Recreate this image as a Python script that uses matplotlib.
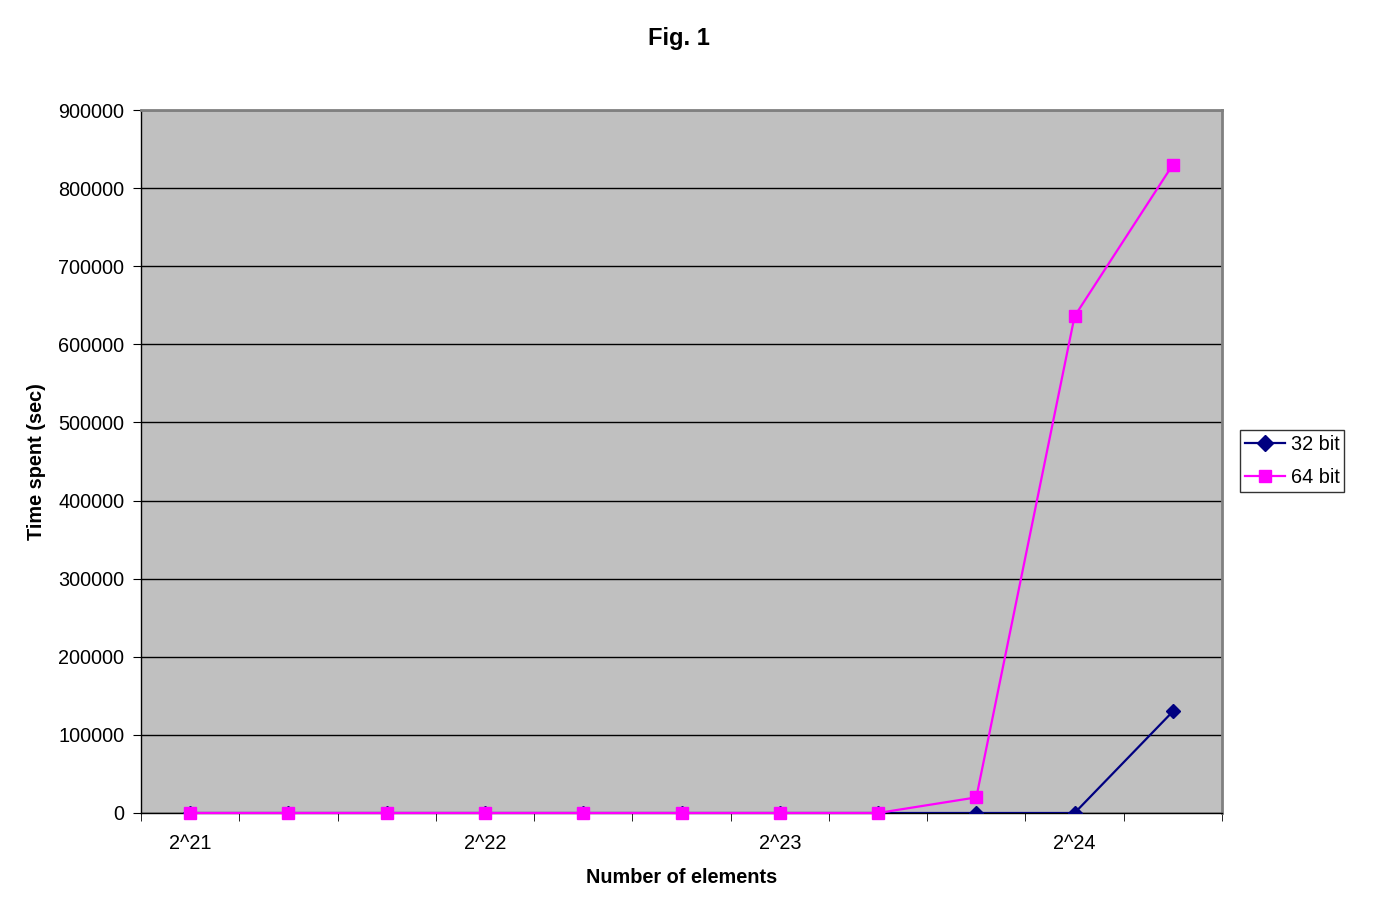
import matplotlib.pyplot as plt
import numpy as np

plt.rcParams['font.family'] = ['Liberation Sans', 'DejaVu Sans']

# data
categories = ['2^21', '', '', '2^22', '', '', '2^23', '', '', '2^24', '']
bit32 = [0, 0, 0, 0, 0, 0, 0, 0, 0, 0, 130000]
bit64 = [0, 0, 0, 0, 0, 0, 0, 0, 20000, 636000, 830000]
yticks = np.arange(0, 900001, 100000)


def main():
    fig = plt.figure(figsize=(13.79, 9.16), dpi=100)
    ax = fig.add_axes([141 / 1379, 103 / 916, 1081 / 1379, 703 / 916])
    ax.set_facecolor('#C0C0C0')

    x = np.arange(len(categories))
    ax.plot(x, bit32, color='#000080', marker='D', markersize=7, lw=1.6,
            label='32 bit', zorder=3)
    ax.plot(x, bit64, color='#FF00FF', marker='s', markersize=8, lw=1.6,
            label='64 bit', zorder=4, clip_on=False)

    ax.set_xlim(-0.5, len(categories) - 0.5)
    ax.set_ylim(0, 900000)
    ax.set_yticks(yticks)
    ax.set_yticklabels([str(v) for v in yticks])
    ax.yaxis.grid(True, color='black', lw=1)
    ax.set_axisbelow(True)

    # category labels without marks, tick marks on category boundaries
    ax.set_xticks([0, 3, 6, 9])
    ax.set_xticklabels([categories[i] for i in [0, 3, 6, 9]])
    ax.set_xticks(np.arange(-0.5, len(categories)), minor=True)
    ax.tick_params(axis='x', which='major', length=0, pad=15, labelsize=14.3)
    ax.tick_params(axis='x', which='minor', length=6, direction='out', color='black')
    ax.tick_params(axis='y', length=6, direction='out', pad=6, labelsize=14.3)

    for side in ['top', 'right']:
        ax.spines[side].set_color('#808080')
        ax.spines[side].set_linewidth(2)
    for side in ['left', 'bottom']:
        ax.spines[side].set_color('black')
        ax.spines[side].set_linewidth(1)

    ax.set_xlabel('Number of elements', fontsize=14.3, fontweight='bold', labelpad=11)
    ax.set_ylabel('Time spent (sec)', fontsize=14.3, fontweight='bold', labelpad=9)
    fig.text(679 / 1379, 1 - 38 / 916, 'Fig. 1', fontsize=17, fontweight='bold',
             ha='center', va='center')

    leg = fig.legend(loc='center left', bbox_to_anchor=(1240 / 1379, 1 - 461 / 916),
                     frameon=True, fancybox=False, fontsize=14.3, handlelength=2.0,
                     borderpad=0.25, labelspacing=0.75, handletextpad=0.3,
                     borderaxespad=0, markerscale=1.1)
    leg.get_frame().set_edgecolor('black')
    leg.get_frame().set_linewidth(1)

    fig.savefig('out.png', dpi=100)


if __name__ == '__main__':
    main()
